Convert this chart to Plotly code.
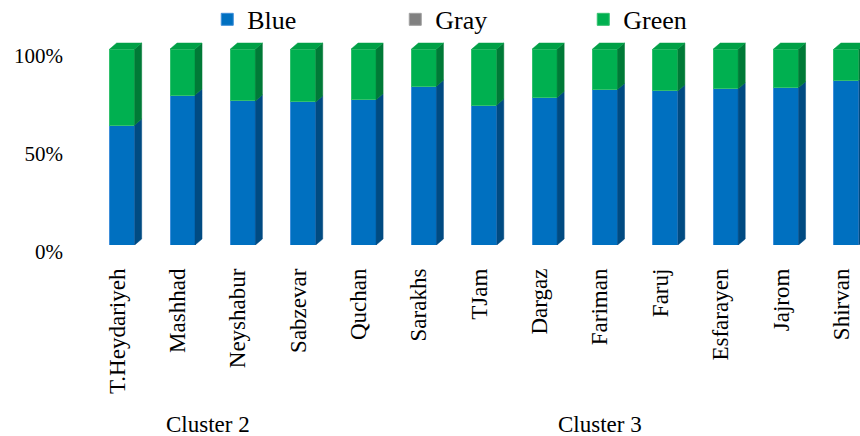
import plotly.graph_objects as go

# ---- data ----
categories = ["T.Heydariyeh", "Mashhad", "Neyshabur", "Sabzevar", "Quchan", "Sarakhs",
              "TJam", "Dargaz", "Fariman", "Faruj", "Esfarayen", "Jajrom", "Shirvan"]
blue = [61.2, 76.5, 73.5, 73.0, 74.1, 81.0, 71.4, 75.3, 79.4, 78.6, 79.7, 80.3, 84.0]
gray = [0, 0, 0, 0, 0, 0, 0, 0, 0, 0, 0, 0, 0]
green = [38.8, 23.5, 26.5, 27.0, 25.9, 19.0, 28.6, 24.7, 20.6, 21.4, 20.3, 19.7, 16.0]
clusters = ["Cluster 2"] * 4 + ["Cluster 3"] * 9
y_ticks = [0, 50, 100]

# ---- style ----
FONT = "Liberation Serif, Times New Roman, DejaVu Serif, serif"
BAR_W = 0.414
DX = 0.116   # depth in category units
DY = 3.06    # depth in percent units
series = [
    ("Blue", blue, "#0070C0", "#004B82", "#0062A8", "#3F8FDA"),
    ("Gray", gray, "#808080", "#595959", "#707070", "#A0A0A0"),
    ("Green", green, "#00B050", "#007A37", "#00A046", "#33C06E"),
]

fig = go.Figure()
xs = list(range(len(categories)))
base = [0.0] * len(categories)
for name, vals, front, side, top, edge in series:
    fig.add_trace(go.Bar(
        x=xs, y=vals, name=name, width=BAR_W,
        marker=dict(color=front, line=dict(color=edge, width=1)),
        hoverinfo="skip",
    ))
    # side faces
    sx, sy = [], []
    for i, v in enumerate(vals):
        if v <= 0:
            continue
        x1 = i + BAR_W / 2
        y0, y1 = base[i], base[i] + v
        sx += [x1, x1, x1 + DX, x1 + DX, x1, None]
        sy += [y0, y1, y1 + DY, y0 + DY, y0, None]
    if sx:
        fig.add_trace(go.Scatter(x=sx, y=sy, mode="lines", fill="toself",
                                 fillcolor=side, line=dict(color=side, width=0.5),
                                 showlegend=False, hoverinfo="skip"))
    base = [b + v for b, v in zip(base, vals)]

# top faces of stacks
tx, ty = [], []
for i, t in enumerate(base):
    x0, x1 = i - BAR_W / 2, i + BAR_W / 2
    tx += [x0, x1, x1 + DX, x0 + DX, x0, None]
    ty += [t, t, t + DY, t + DY, t, None]
fig.add_trace(go.Scatter(x=tx, y=ty, mode="lines", fill="toself",
                         fillcolor=series[-1][4], line=dict(color=series[-1][4], width=0.5),
                         showlegend=False, hoverinfo="skip"))

fig.update_layout(
    barmode="stack",
    width=860, height=436,
    margin=dict(l=92.3, r=0, t=40, b=191, autoexpand=False),
    paper_bgcolor="white", plot_bgcolor="white",
    font=dict(family=FONT, color="black"),
    legend=dict(orientation="h", xref="container", yref="paper",
                x=0.241, xanchor="left", y=1.215, yanchor="top",
                font=dict(size=26, family=FONT), itemclick=False,
                traceorder="normal", entrywidth=143, bgcolor="rgba(0,0,0,0)"),
    xaxis=dict(range=[-0.5, 12.225], tickmode="array", tickvals=xs, ticktext=categories,
               tickangle=-90, tickfont=dict(size=23, family=FONT),
               showgrid=False, showline=False, zeroline=False, ticks="",
               ticklabelstandoff=18, ticklabelshift=-5, automargin=False),
    yaxis=dict(range=[0, 104.6], tickmode="array", tickvals=y_ticks,
               ticktext=[f"{t}%" for t in y_ticks], tickfont=dict(size=21, family=FONT),
               showgrid=False, showline=False, zeroline=False, ticks="",
               ticklabelstandoff=28, ticklabelshift=7, automargin=False),
    showlegend=True,
)

# cluster labels
seen = []
for c in clusters:
    if c not in seen:
        seen.append(c)
for c in seen:
    idx = [i for i, cc in enumerate(clusters) if cc == c]
    fig.add_annotation(x=sum(idx) / len(idx), y=-0.878, xref="x", yref="paper",
                       text=c, showarrow=False, xshift=-5, yanchor="middle",
                       font=dict(size=23, family=FONT, color="black"))

fig.write_html("out.html")
